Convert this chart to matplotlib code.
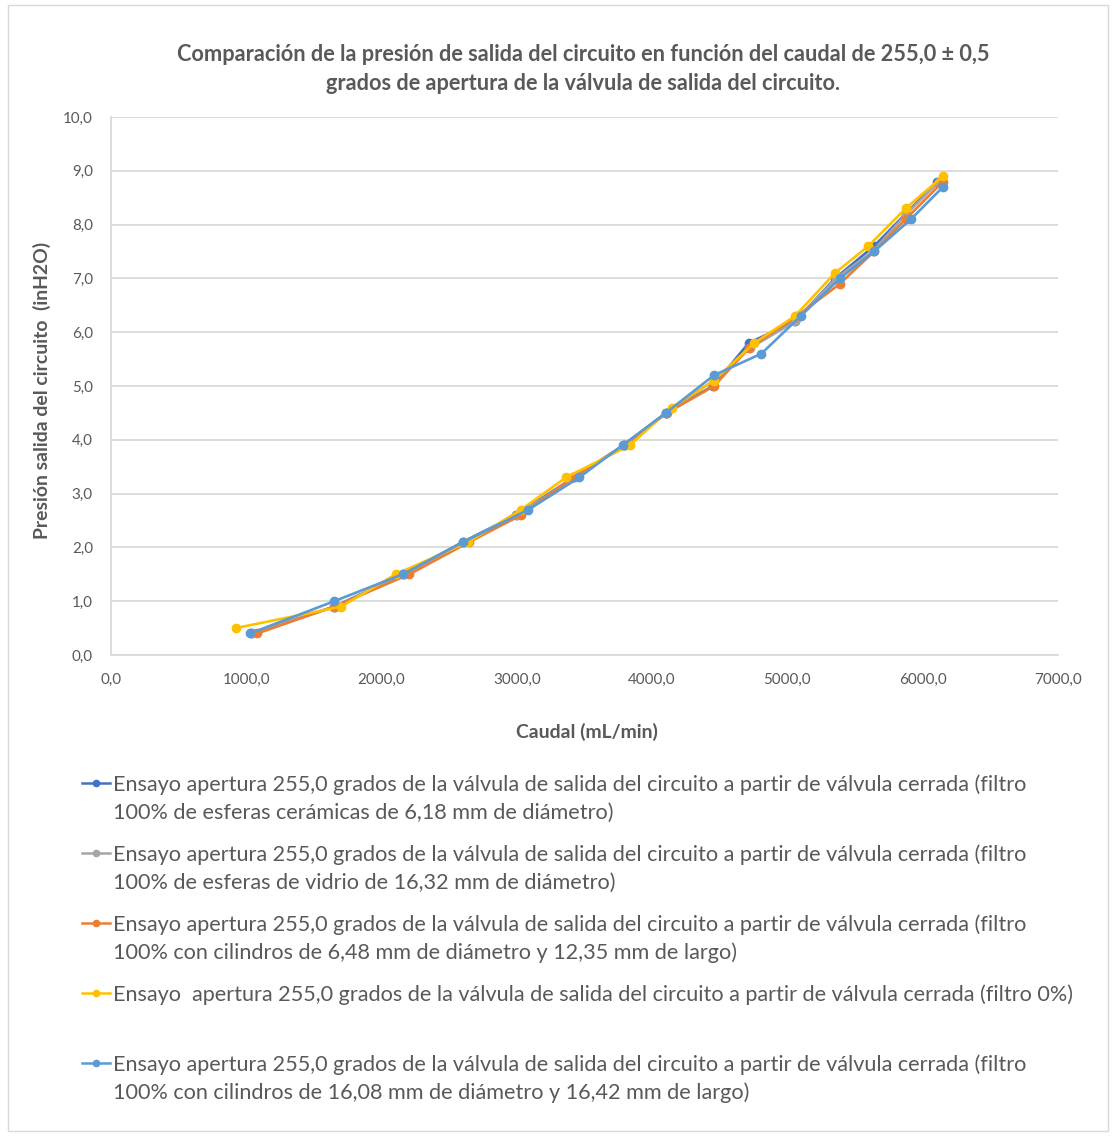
import matplotlib
matplotlib.use("Agg")
import matplotlib.pyplot as plt
from matplotlib.lines import Line2D
from matplotlib.patches import Rectangle
from matplotlib.ticker import FuncFormatter, MultipleLocator

# ---- data -------------------------------------------------------------
caudal_ceramicas = [1035, 1650, 2160, 2600, 2991, 3420, 3790, 4102, 4450, 4714, 5056, 5352, 5640, 5874, 6108]
presion_ceramicas = [0.4, 0.9, 1.5, 2.1, 2.6, 3.3, 3.9, 4.5, 5.0, 5.8, 6.2, 7.0, 7.6, 8.2, 8.8]

caudal_vidrio = [1040, 1655, 2170, 2610, 3000, 3430, 3795, 4105, 4455, 4720, 5056, 5360, 5630, 5880, 6120]
presion_vidrio = [0.4, 0.9, 1.5, 2.1, 2.6, 3.3, 3.9, 4.5, 5.1, 5.7, 6.2, 7.0, 7.5, 8.2, 8.8]

caudal_cil_648 = [1081, 1650, 2205, 2648, 3031, 3413, 3800, 4110, 4457, 4714, 5070, 5388, 5640, 5874, 6150]
presion_cil_648 = [0.4, 0.9, 1.5, 2.1, 2.6, 3.3, 3.9, 4.5, 5.0, 5.7, 6.3, 6.9, 7.5, 8.1, 8.8]

caudal_filtro0 = [922, 1702, 2104, 2640, 3031, 3363, 3836, 4144, 4457, 4755, 5056, 5352, 5598, 5874, 6150]
presion_filtro0 = [0.5, 0.9, 1.5, 2.1, 2.7, 3.3, 3.9, 4.6, 5.1, 5.8, 6.3, 7.1, 7.6, 8.3, 8.9]

caudal_cil_1608 = [1027, 1650, 2156, 2604, 3085, 3461, 3782, 4102, 4457, 4807, 5098, 5388, 5640, 5913, 6150]
presion_cil_1608 = [0.4, 1.0, 1.5, 2.1, 2.7, 3.3, 3.9, 4.5, 5.2, 5.6, 6.3, 7.0, 7.5, 8.1, 8.7]

series_labels = [
    "Ensayo apertura 255,0 grados de la válvula de salida del circuito a partir de válvula cerrada (filtro\n"
    "100% de esferas cerámicas de 6,18 mm de diámetro)",
    "Ensayo apertura 255,0 grados de la válvula de salida del circuito a partir de válvula cerrada (filtro\n"
    "100% de esferas de vidrio de 16,32 mm de diámetro)",
    "Ensayo apertura 255,0 grados de la válvula de salida del circuito a partir de válvula cerrada (filtro\n"
    "100% con cilindros de 6,48 mm de diámetro y 12,35 mm de largo)",
    "Ensayo  apertura 255,0 grados de la válvula de salida del circuito a partir de válvula cerrada (filtro 0%)",
    "Ensayo apertura 255,0 grados de la válvula de salida del circuito a partir de válvula cerrada (filtro\n"
    "100% con cilindros de 16,08 mm de diámetro y 16,42 mm de largo)",
]
series_colors = ["#4472C4", "#A5A5A5", "#ED7D31", "#FFC000", "#5B9BD5"]

title_text = ("Comparación de la presión de salida del circuito en función del caudal de 255,0 ± 0,5\n"
              "grados de apertura de la válvula de salida del circuito.")
x_title = "Caudal (mL/min)"
y_title = "Presión salida del circuito  (inH2O)"

# ---- figure layout ----------------------------------------------------
W, H, DPI = 1117, 1137, 100
FONT = ["Lato", "DejaVu Sans"]
TXT = "#595959"
GRID = "#D9D9D9"
plt.rcParams["font.family"] = FONT

fig = plt.figure(figsize=(W / DPI, H / DPI), dpi=DPI)
renderer = fig.canvas.get_renderer()


def fx(x):
    return x / W


def fy(y):
    return 1 - y / H


def fit_width(text, width_px):
    size = text.get_fontsize()
    for _ in range(3):
        w = text.get_window_extent(renderer).width
        size *= width_px / w
        text.set_fontsize(size)
    return size


# outer chart frame
fig.add_artist(Rectangle((fx(8), fy(1131)), (1108 - 8) / W, (1131 - 5) / H,
                         transform=fig.transFigure, fill=False,
                         edgecolor=GRID, lw=1.0))

ax_l, ax_r, ax_t, ax_b = 111, 1058, 117, 655
ax = fig.add_axes([fx(ax_l), fy(ax_b), (ax_r - ax_l) / W, (ax_b - ax_t) / H])

xs = [caudal_ceramicas, caudal_vidrio, caudal_cil_648, caudal_filtro0, caudal_cil_1608]
ys = [presion_ceramicas, presion_vidrio, presion_cil_648, presion_filtro0, presion_cil_1608]
for x, y, c in zip(xs, ys, series_colors):
    ax.plot(x, y, color=c, lw=1.9, marker="o", ms=6, mec=c, mfc=c, zorder=3)

ax.set_xlim(0, 7000)
ax.set_ylim(0, 10)
ax.xaxis.set_major_locator(MultipleLocator(1000))
ax.yaxis.set_major_locator(MultipleLocator(1))
comma = FuncFormatter(lambda v, p: f"{v:.1f}".replace(".", ","))
ax.xaxis.set_major_formatter(comma)
ax.yaxis.set_major_formatter(comma)
ax.grid(axis="y", color=GRID, lw=1.3, zorder=0)
ax.set_axisbelow(True)
for s in ("top", "right"):
    ax.spines[s].set_visible(False)
for s in ("left", "bottom"):
    ax.spines[s].set_color(GRID)
    ax.spines[s].set_linewidth(1.3)

# tick label size from the width of one label
probe = fig.text(0, 0, "1000,0", fontsize=10, family=FONT)
tick_size = fit_width(probe, 47)
probe.remove()
ax.tick_params(axis="both", length=0, labelsize=tick_size, labelcolor=TXT)
ax.tick_params(axis="x", pad=13)
ax.tick_params(axis="y", pad=13)

# titles
t = fig.text(fx(583), fy(69), title_text, ha="center", va="center",
             fontsize=14, fontweight="bold", color=TXT, linespacing=1.45)
fit_width(t, 811)

xl = fig.text(fx(587), fy(732), x_title, ha="center", va="center",
              fontsize=11, fontweight="bold", color=TXT)
fit_width(xl, 143)

yl = fig.text(fx(42), fy(390), y_title, ha="center", va="center", rotation=90,
              fontsize=11, fontweight="bold", color=TXT)
yl.set_fontsize(xl.get_fontsize())

# legend, drawn entry by entry below the chart
legend_rows = [783, 853, 923, 993, 1063]
probe = fig.text(0, 0, series_labels[0].split("\n")[0], fontsize=12, family=FONT)
leg_size = fit_width(probe, 914)
probe.remove()
for label, c, row in zip(series_labels, series_colors, legend_rows):
    fig.add_artist(Line2D([fx(82), fx(110)], [fy(row), fy(row)],
                          transform=fig.transFigure, color=c, lw=1.8))
    fig.add_artist(Line2D([fx(96)], [fy(row)], transform=fig.transFigure,
                          color=c, marker="o", ms=4.5, lw=0))
    fig.text(fx(113), fy(row - 9), label, ha="left", va="top",
             fontsize=leg_size, color=TXT, linespacing=1.49)

fig.savefig("out.png", dpi=DPI)
